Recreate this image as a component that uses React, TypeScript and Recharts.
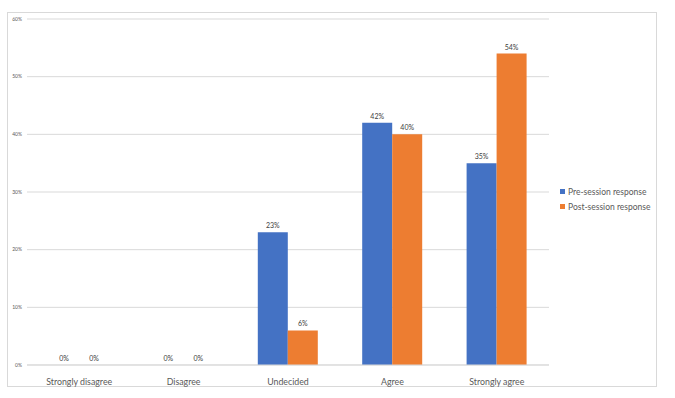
import React from 'react';
import { BarChart, Bar, XAxis, YAxis, CartesianGrid } from 'recharts';

const categories = ['Strongly disagree', 'Disagree', 'Undecided', 'Agree', 'Strongly agree'];
const preSession = [0, 0, 23, 42, 35];
const postSession = [0, 0, 6, 40, 54];
const yTicks = [0, 10, 20, 30, 40, 50, 60];

const seriesInfo = [
  { key: 'pre', name: 'Pre-session response', color: '#4472C4' },
  { key: 'post', name: 'Post-session response', color: '#ED7D31' },
];

const data = categories.map((name, i) => ({
  name,
  pre: preSession[i],
  post: postSession[i],
}));

const FONT = 'Lato, "Open Sans", sans-serif';

// value label above each bar, also for the zero bars
const renderValueLabel = (props: any) => {
  const { x, y, width, value } = props;
  return (
    <text
      x={x + width / 2}
      y={y - 4}
      textAnchor="middle"
      fontSize={7}
      fill="#404040"
      fontFamily={FONT}
    >
      {`${value}%`}
    </text>
  );
};

export default function App() {
  return (
    <div style={{ position: 'absolute', left: 0, top: 0, width: 675, height: 398, background: '#fff' }}>
      <div
        style={{
          position: 'absolute',
          left: 7,
          top: 12,
          width: 648,
          height: 373,
          border: '1px solid #d9d9d9',
        }}
      />
      <div style={{ position: 'absolute', left: 0, top: 0 }}>
        <BarChart
          width={675}
          height={398}
          data={data}
          margin={{ top: 19, right: 126, bottom: 3, left: 7 }}
          barGap={0}
          barSize={30}
        >
          <CartesianGrid vertical={false} stroke="#d9d9d9" />
          <XAxis
            dataKey="name"
            height={30}
            axisLine={{ stroke: '#d9d9d9' }}
            tickLine={false}
            tickMargin={8}
            tick={{ fontSize: 8.8, fill: '#595959', fontFamily: FONT }}
          />
          <YAxis
            width={20}
            domain={[0, 60]}
            ticks={yTicks}
            axisLine={false}
            tickLine={false}
            tickSize={0}
            tickMargin={5}
            tickFormatter={(v: number) => `${v}%`}
            tick={{ fontSize: 5, fill: '#595959', fontFamily: FONT }}
          />
          {seriesInfo.map(s => (
            <Bar
              key={s.key}
              dataKey={s.key}
              name={s.name}
              fill={s.color}
              minPointSize={0.01}
              isAnimationActive={false}
              label={renderValueLabel}
            />
          ))}
        </BarChart>
      </div>
      <div
        style={{
          position: 'absolute',
          left: 560,
          top: 184,
          fontFamily: FONT,
          fontSize: 8.5,
          color: '#595959',
        }}
      >
        {seriesInfo.map(s => (
          <div key={s.key} style={{ display: 'flex', alignItems: 'center', height: 15 }}>
            <span style={{ width: 5, height: 5, background: s.color, marginRight: 3, display: 'inline-block' }} />
            {s.name}
          </div>
        ))}
      </div>
    </div>
  );
}
